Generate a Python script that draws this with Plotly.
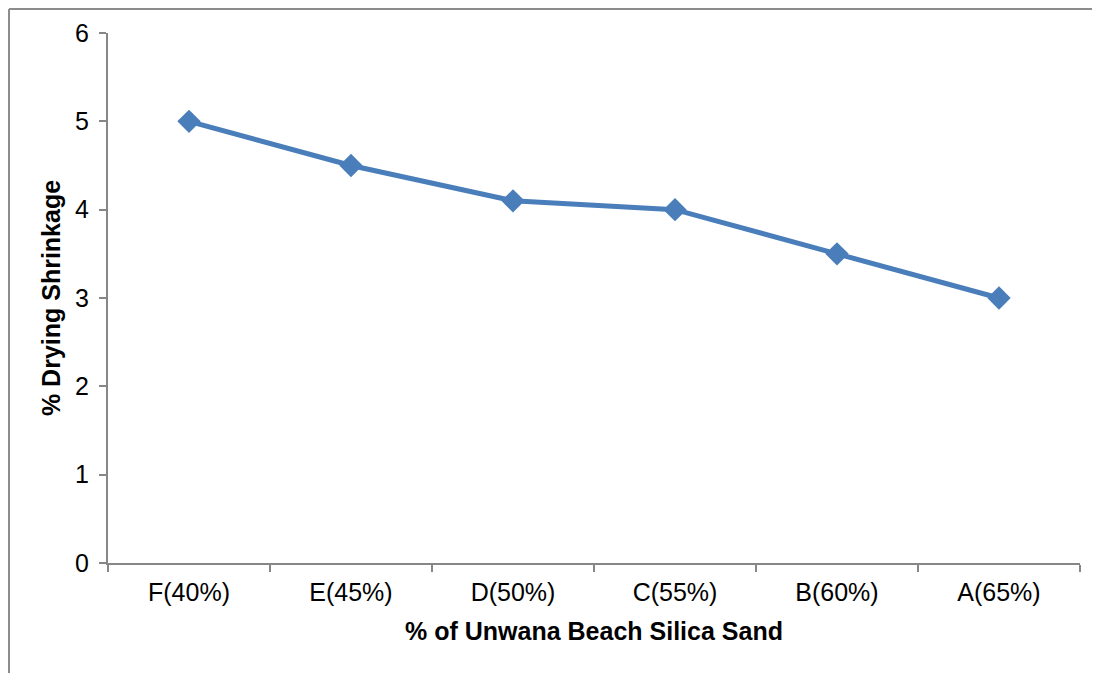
import plotly.graph_objects as go

categories = ["F(40%)", "E(45%)", "D(50%)", "C(55%)", "B(60%)", "A(65%)"]
shrinkage = [5.0, 4.5, 4.1, 4.0, 3.5, 3.0]
y_ticks = [0, 1, 2, 3, 4, 5, 6]

# page body has an 8px margin; compensate
OFF = 8
W, H = 1092, 665
L, T = 108 - OFF, 33 - OFF
R = W - (1080 - OFF)
B = H - (563 - OFF)
pw, ph = W - L - R, H - T - B

fig = go.Figure(go.Scatter(
    x=categories, y=shrinkage, mode="lines+markers",
    line=dict(color="#4A7EBB", width=5),
    marker=dict(symbol="diamond", size=18, color="#4A7EBB"),
    showlegend=False,
))

axis_col = "#878787"
fs = 25
fig.update_layout(
    width=W, height=H,
    margin=dict(l=L, r=R, t=T, b=B),
    plot_bgcolor="white", paper_bgcolor="white",
    font=dict(family="Liberation Sans, Arial", color="black", size=fs),
    xaxis=dict(
        type="category", tickson="boundaries", ticks="outside", ticklen=7,
        tickcolor=axis_col, tickwidth=2, showline=True, linecolor=axis_col, linewidth=2,
        showgrid=False, zeroline=False, range=[-0.5, 5.5],
        tickfont=dict(size=fs), ticklabelstandoff=6,
        title=dict(text="<b>% of Unwana Beach Silica Sand</b>", font=dict(size=fs), standoff=17),
    ),
    yaxis=dict(
        range=[0, 6], tickvals=y_ticks, ticks="outside", ticklen=7,
        tickcolor=axis_col, tickwidth=2, showline=True, linecolor=axis_col, linewidth=2,
        showgrid=False, zeroline=False, tickfont=dict(size=fs), ticklabelstandoff=5,
        title=dict(text="<b>% Drying Shrinkage</b>", font=dict(size=fs), standoff=7),
    ),
    shapes=[
        dict(type="line", xref="paper", yref="paper",
             x0=(1 - L) / pw, x1=1.2, y0=1 + (T - 1) / ph, y1=1 + (T - 1) / ph,
             line=dict(color="#8C8C8C", width=2)),
        dict(type="line", xref="paper", yref="paper",
             x0=(1 - L) / pw, x1=(1 - L) / pw, y0=1 + (T - 1) / ph, y1=-0.5,
             line=dict(color="#8C8C8C", width=2)),
    ],
)

fig.write_html("out.html")
